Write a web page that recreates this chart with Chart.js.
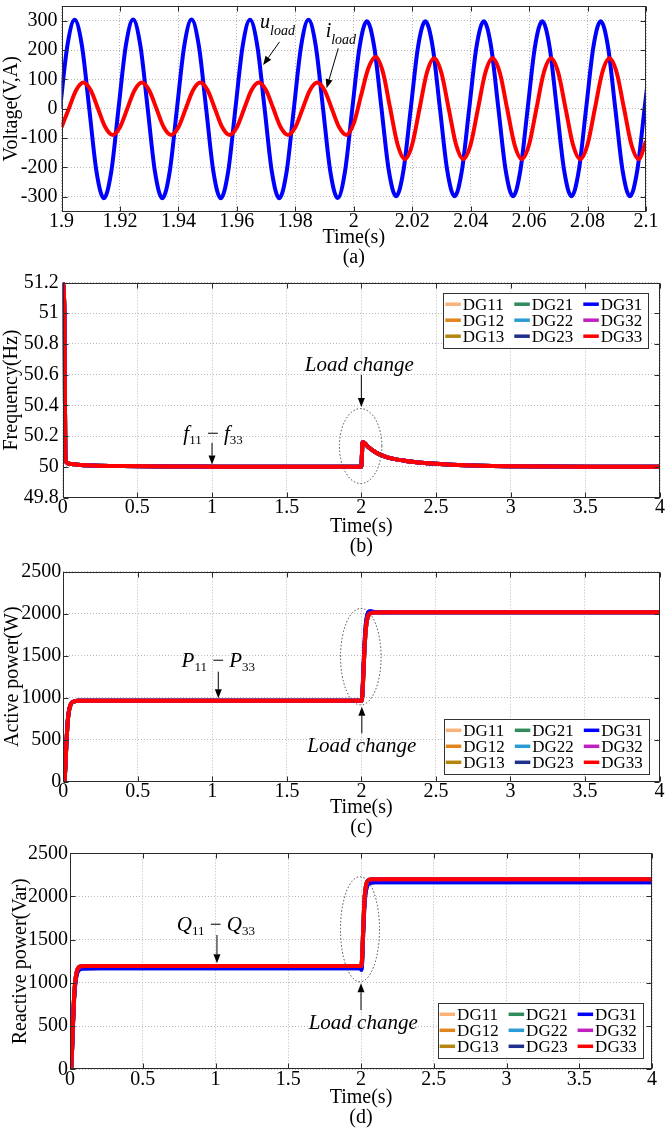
<!DOCTYPE html>
<html>
<head>
<meta charset="utf-8">
<script src="https://cdn.jsdelivr.net/npm/chart.js@4.4.0/dist/chart.umd.min.js"></script>
<style>
  html, body { margin: 0; padding: 0; background: #fff; overflow: hidden; }
  #page { position: relative; width: 668px; height: 1133px; }
  canvas { position: absolute; left: 0; }
</style>
</head>
<body>
<div id="page">
  <canvas id="chartA" width="668" height="282" style="top:-14px"></canvas>
  <canvas id="chartB" width="668" height="295" style="top:262px"></canvas>
  <canvas id="chartC" width="668" height="286" style="top:552px"></canvas>
  <canvas id="chartD" width="668" height="295" style="top:833px"></canvas>
</div>
<script>
// (a) load voltage and current around the load step
const tU = [
  1.8995, 1.9020, 1.9045, 1.9070, 1.9095, 1.9120, 1.9145, 1.9170,
  1.9195, 1.9220, 1.9245, 1.9270, 1.9295, 1.9320, 1.9345, 1.9370,
  1.9395, 1.9420, 1.9445, 1.9470, 1.9495, 1.9520, 1.9545, 1.9570,
  1.9595, 1.9620, 1.9645, 1.9670, 1.9695, 1.9720, 1.9745, 1.9770,
  1.9795, 1.9820, 1.9845, 1.9870, 1.9895, 1.9920, 1.9945, 1.9970,
  1.9995, 2.0020, 2.0045, 2.0070, 2.0095, 2.0120, 2.0145, 2.0170,
  2.0195, 2.0220, 2.0245, 2.0270, 2.0295, 2.0320, 2.0345, 2.0370,
  2.0395, 2.0420, 2.0445, 2.0470, 2.0495, 2.0520, 2.0545, 2.0570,
  2.0595, 2.0620, 2.0645, 2.0670, 2.0695, 2.0720, 2.0745, 2.0770,
  2.0795, 2.0820, 2.0845, 2.0870, 2.0895, 2.0920, 2.0945, 2.0970,
  2.0995, 2.1020
];
const uLoad = [
  0, 214, 303, 214, 0, -216, -305, -216,
  0, 214, 304, 214, 0, -216, -305, -216,
  0, 214, 304, 214, 0, -216, -305, -216,
  0, 214, 303, 214, 0, -216, -305, -216,
  0, 214, 303, 214, 0, -215, -304, -214,
  0, 211, 298, 211, 0, -211, -298, -211,
  0, 211, 298, 211, 0, -211, -298, -211,
  0, 211, 298, 211, 0, -211, -298, -211,
  0, 211, 298, 211, 0, -211, -298, -211,
  0, 211, 298, 211, 0, -211, -298, -211,
  0, 211
];
const tI = [
  1.9000, 1.9025, 1.9050, 1.9075, 1.9100, 1.9125, 1.9150, 1.9175,
  1.9200, 1.9225, 1.9250, 1.9275, 1.9300, 1.9325, 1.9350, 1.9375,
  1.9400, 1.9425, 1.9450, 1.9475, 1.9500, 1.9525, 1.9550, 1.9575,
  1.9600, 1.9625, 1.9650, 1.9675, 1.9700, 1.9725, 1.9750, 1.9775,
  1.9800, 1.9825, 1.9850, 1.9875, 1.9900, 1.9925, 1.9950, 1.9975,
  2.0000, 2.0025, 2.0050, 2.0075, 2.0100, 2.0125, 2.0150, 2.0175,
  2.0200, 2.0225, 2.0250, 2.0275, 2.0300, 2.0325, 2.0350, 2.0375,
  2.0400, 2.0425, 2.0450, 2.0475, 2.0500, 2.0525, 2.0550, 2.0575,
  2.0600, 2.0625, 2.0650, 2.0675, 2.0700, 2.0725, 2.0750, 2.0775,
  2.0800, 2.0825, 2.0850, 2.0875, 2.0900, 2.0925, 2.0950, 2.0975,
  2.1000
];
const iLoad = [
  -63, 0, 63, 89, 63, 0, -63, -89,
  -63, 0, 63, 89, 63, 0, -63, -89,
  -63, 0, 63, 89, 63, 0, -63, -89,
  -63, 0, 63, 89, 63, 0, -63, -89,
  -63, 0, 63, 89, 63, 0, -63, -89,
  -50, 45, 138, 176, 124, 0, -122, -172,
  -122, 0, 122, 172, 122, 0, -122, -172,
  -122, 0, 122, 172, 122, 0, -122, -172,
  -122, 0, 122, 172, 122, 0, -122, -172,
  -122, 0, 122, 172, 122, 0, -122, -172,
  -110
];
const xTicksA = [1.9, 1.92, 1.94, 1.96, 1.98, 2, 2.02, 2.04, 2.06, 2.08, 2.1];
const yTicksA = [-300, -200, -100, 0, 100, 200, 300];

// DG units
const dgNames = ['DG11', 'DG12', 'DG13', 'DG21', 'DG22', 'DG23', 'DG31', 'DG32', 'DG33'];
const dgColors = ['#f9b27a', '#e0851c', '#b5860f', '#2e8b5a', '#2a9bd4', '#1f2f8c', '#0000ff', '#c020c0', '#ff0000'];
const xTicksT = [0, 0.5, 1, 1.5, 2, 2.5, 3, 3.5, 4];

// (b) frequency, same for all DGs
const tF = [0, 0.004, 0.008, 0.011, 0.014, 0.017, 0.02, 0.025, 0.035, 0.06, 0.1, 0.2, 0.4, 0.7, 1.0, 1.5, 1.998,
            2.0, 2.004, 2.008, 2.02, 2.05, 2.1, 2.15, 2.2, 2.3, 2.4, 2.5, 2.6, 2.8, 3.0, 3.5, 4.0];
const freq = [51.2, 51.18, 51.12, 51.0, 50.6, 50.15, 50.05, 50.03, 50.022, 50.018, 50.014, 50.009, 50.005, 50.002, 50.001, 50.0, 50.0,
              50.0, 50.08, 50.16, 50.155, 50.125, 50.092, 50.07, 50.055, 50.038, 50.027, 50.019, 50.013, 50.006, 50.003, 50.0, 50.0];
const yTicksB = [49.8, 50, 50.2, 50.4, 50.6, 50.8, 51, 51.2];

// (c) active power
const tP = [0, 0.008, 0.014, 0.02, 0.026, 0.032, 0.04, 0.05, 0.06, 0.075, 0.1, 0.2, 1.0, 1.998,
            2.002, 2.008, 2.015, 2.022, 2.03, 2.04, 2.05, 2.06, 2.075, 2.1, 2.2, 3.0, 4.0];
const pMain = [0, 10, 180, 420, 620, 760, 860, 920, 945, 958, 963, 965, 965, 965,
               962, 1080, 1350, 1620, 1820, 1945, 1990, 2005, 2012, 2015, 2016, 2016, 2016];
const pFast = [0, 12, 190, 430, 630, 770, 865, 922, 946, 958, 963, 965, 965, 965,
               965, 1100, 1400, 1680, 1880, 1990, 2025, 2028, 2024, 2020, 2017, 2016, 2016];
const yTicksP = [0, 500, 1000, 1500, 2000, 2500];

// (d) reactive power
const tQ = [0, 0.008, 0.014, 0.02, 0.026, 0.032, 0.04, 0.05, 0.06, 0.075, 0.1, 0.2, 1.0, 1.998,
            2.002, 2.008, 2.015, 2.022, 2.03, 2.04, 2.05, 2.06, 2.075, 2.1, 2.2, 3.0, 4.0];
const qHigh = [0, 10, 220, 510, 760, 940, 1070, 1150, 1180, 1192, 1196, 1197, 1197, 1197,
               1195, 1300, 1620, 1900, 2080, 2160, 2188, 2196, 2200, 2201, 2201, 2201, 2201];
const qLow = [0, 8, 200, 480, 730, 905, 1035, 1118, 1148, 1162, 1167, 1169, 1169, 1169,
              1152, 1240, 1560, 1840, 2020, 2110, 2145, 2158, 2163, 2165, 2165, 2165, 2165];
const yTicksQ = [0, 500, 1000, 1500, 2000, 2500];

const SERIF = '"Liberation Serif", "Times New Roman", serif';
const TICK_FONT = { family: SERIF, size: 20, lineHeight: 1.05 };
const TITLE_FONT = { family: SERIF, size: 20, lineHeight: 1.0 };
const GRID = '#b8b8b8';

const xy = (ts, vs) => ts.map((t, i) => ({ x: t, y: vs[i] }));

function dgSets(pick) {
  return dgNames.map((name, i) => ({
    label: name,
    data: pick(name),
    borderColor: dgColors[i],
    borderWidth: 4,
    pointRadius: 0,
    cubicInterpolationMode: 'monotone',
    borderJoinStyle: 'round',
    clip: 0,
    order: 8 - i
  }));
}

// text made of italic letters and subscripts
function drawParts(ctx, parts, cx, cy) {
  const fonts = parts.map(p => `${p.it ? 'italic ' : ''}${p.size || 21}px ${SERIF}`);
  let w = 0;
  parts.forEach((p, i) => { ctx.font = fonts[i]; w += ctx.measureText(p.s).width; });
  let x = cx - w / 2;
  ctx.textAlign = 'left';
  ctx.textBaseline = 'alphabetic';
  parts.forEach((p, i) => {
    ctx.font = fonts[i];
    ctx.fillText(p.s, x, cy + (p.dy || 0));
    x += ctx.measureText(p.s).width;
  });
}

function arrow(ctx, x1, y1, x2, y2) {
  const ang = Math.atan2(y2 - y1, x2 - x1);
  const hl = 9, hw = 3.5;
  const bx = x2 - hl * Math.cos(ang), by = y2 - hl * Math.sin(ang);
  ctx.beginPath();
  ctx.moveTo(x1, y1);
  ctx.lineTo(bx, by);
  ctx.stroke();
  ctx.beginPath();
  ctx.moveTo(x2, y2);
  ctx.lineTo(bx + hw * Math.sin(ang), by - hw * Math.cos(ang));
  ctx.lineTo(bx - hw * Math.sin(ang), by + hw * Math.cos(ang));
  ctx.closePath();
  ctx.fill();
}

function decor(notes, legendPos) {
  return {
    id: 'decor',
    afterDatasetsDraw(chart) {
      const { ctx, chartArea: a } = chart;
      const xs = chart.scales.x, ys = chart.scales.y;
      const px = t => xs.getPixelForValue(t);
      const py = v => ys.getPixelForValue(v);
      ctx.save();

      // frame and inward ticks
      const L = Math.round(a.left) + 0.5, R = Math.round(a.right) - 0.5;
      const T = Math.round(a.top) + 0.5, B = Math.round(a.bottom) - 0.5;
      ctx.strokeStyle = '#2a2a2a';
      ctx.lineWidth = 1;
      ctx.setLineDash([]);
      ctx.strokeRect(L, T, R - L, B - T);
      ctx.beginPath();
      xs.ticks.forEach(tk => {
        const x = Math.round(px(tk.value)) + 0.5;
        ctx.moveTo(x, B); ctx.lineTo(x, B - 5);
        ctx.moveTo(x, T); ctx.lineTo(x, T + 5);
      });
      ys.ticks.forEach(tk => {
        const y = Math.round(py(tk.value)) + 0.5;
        ctx.moveTo(L, y); ctx.lineTo(L + 5, y);
        ctx.moveTo(R, y); ctx.lineTo(R - 5, y);
      });
      ctx.stroke();

      // annotations
      ctx.fillStyle = '#000';
      ctx.strokeStyle = '#000';
      notes.forEach(n => {
        if (n.type === 'text') {
          drawParts(ctx, n.parts, px(n.at[0]), py(n.at[1]));
        } else if (n.type === 'arrow') {
          ctx.setLineDash([]);
          ctx.lineWidth = 1;
          arrow(ctx, px(n.from[0]), py(n.from[1]), px(n.to[0]), py(n.to[1]));
        } else if (n.type === 'ellipse') {
          const cx = px(n.at[0]), cy = py(n.at[1]);
          const rx = Math.abs(px(n.at[0] + n.rx) - cx), ry = Math.abs(py(n.at[1] + n.ry) - cy);
          ctx.save();
          ctx.strokeStyle = '#444';
          ctx.lineWidth = 1;
          ctx.setLineDash([1.5, 2]);
          ctx.beginPath();
          ctx.ellipse(cx, cy, rx, ry, 0, 0, Math.PI * 2);
          ctx.stroke();
          ctx.restore();
        }
      });

      // legend box, three columns
      if (legendPos) {
        const W = 205, H = 54.5;
        const left = a.right - legendPos.right - W;
        const top = legendPos.top !== undefined ? a.top + legendPos.top : a.bottom - legendPos.bottom - H;
        ctx.setLineDash([]);
        ctx.fillStyle = '#fff';
        ctx.fillRect(left, top, W, H);
        ctx.strokeStyle = '#333';
        ctx.lineWidth = 1;
        ctx.strokeRect(Math.round(left) + 0.5, Math.round(top) + 0.5, Math.round(W), Math.round(H));
        const colX = [2, 71, 140];
        const rowY = [11.5, 27.5, 43.5];
        ctx.font = `17px ${SERIF}`;
        ctx.textBaseline = 'middle';
        ctx.textAlign = 'left';
        chart.data.datasets.forEach((ds, i) => {
          const c = Math.floor(i / 3), r = i % 3;
          const x0 = left + colX[c], y0 = top + rowY[r];
          ctx.strokeStyle = ds.borderColor;
          ctx.lineWidth = 3.5;
          ctx.beginPath();
          ctx.moveTo(x0, y0);
          ctx.lineTo(x0 + 15.5, y0);
          ctx.stroke();
          ctx.fillStyle = '#000';
          ctx.fillText(ds.label, x0 + 17.5, y0 + 1);
        });
      }
      ctx.restore();
    }
  };
}

function panel(id, o) {
  return new Chart(document.getElementById(id), {
    type: 'line',
    data: { datasets: o.datasets },
    options: {
      responsive: false,
      animation: false,
      events: [],
      layout: { padding: { left: 0, right: o.padR, top: o.padT, bottom: 0 } },
      plugins: { legend: { display: false }, tooltip: { enabled: false } },
      scales: {
        x: {
          type: 'linear',
          min: o.xMin, max: o.xMax,
          afterBuildTicks: s => { s.ticks = o.xTicks.map(v => ({ value: v })); },
          afterFit: s => { s.height = o.xH; },
          ticks: { font: TICK_FONT, color: '#000', padding: 0, maxRotation: 0, autoSkip: false, callback: v => String(v) },
          grid: { color: GRID, drawTicks: false },
          border: { display: false, dash: [1, 2] },
          title: { display: true, text: ['Time(s)', o.caption], font: TITLE_FONT, color: '#000', padding: 0 }
        },
        y: {
          type: 'linear',
          min: o.yMin, max: o.yMax,
          afterBuildTicks: s => { s.ticks = o.yTicks.map(v => ({ value: v })); },
          afterFit: s => { s.width = o.yW; },
          ticks: { font: TICK_FONT, color: '#000', padding: o.yPad, autoSkip: false, callback: v => String(v) },
          grid: { color: GRID, drawTicks: false },
          border: { display: false, dash: [1, 2] },
          title: { display: true, text: o.yTitle, font: TITLE_FONT, color: '#000', padding: { top: o.yTitlePad, bottom: 0 } }
        }
      }
    },
    plugins: [decor(o.notes, o.legend)]
  });
}

const sub = s => ({ s, size: 13, dy: 4 });
const ital = s => ({ s, it: true });
const minus = { s: ' \u2212 ' };

panel('chartA', {
  datasets: [
    { label: 'u_load', data: xy(tU, uLoad), borderColor: '#0000ff', borderWidth: 4, pointRadius: 0,
      cubicInterpolationMode: 'monotone', clip: 0, order: 1 },
    { label: 'i_load', data: xy(tI, iLoad), borderColor: '#ff0000', borderWidth: 4, pointRadius: 0,
      cubicInterpolationMode: 'monotone', clip: 0, order: 0 }
  ],
  xMin: 1.9, xMax: 2.1, xTicks: xTicksA, yMin: -350, yMax: 350, yTicks: yTicksA,
  padR: 22, padT: 20, xH: 56.5, yW: 61.5, yPad: 4, yTitlePad: 2,
  caption: '(a)', yTitle: 'Voltage(V,A)',
  notes: [
    { type: 'text', at: [1.9739, 274], parts: [{ s: 'u', it: true, size: 20 }, { s: 'load', it: true, size: 14, dy: 7 }] },
    { type: 'arrow', from: [1.9746, 228], to: [1.9690, 149] },
    { type: 'text', at: [1.9956, 244], parts: [{ s: 'i', it: true, size: 20 }, { s: 'load', it: true, size: 14, dy: 7 }] },
    { type: 'arrow', from: [1.9947, 206], to: [1.9907, 70] }
  ]
});

panel('chartB', {
  datasets: dgSets(() => xy(tF, freq)),
  xMin: 0, xMax: 4, xTicks: xTicksT, yMin: 49.8, yMax: 51.2, yTicks: yTicksB,
  padR: 8, padT: 20.5, xH: 59.5, yW: 62.7, yPad: 4, yTitlePad: 1.3,
  caption: '(b)', yTitle: 'Frequency(Hz)',
  legend: { right: 11.7, top: 10.2 },
  notes: [
    { type: 'text', at: [1.986, 50.625], parts: [ital('Load change')] },
    { type: 'arrow', from: [2.0, 50.598], to: [2.0, 50.389] },
    { type: 'ellipse', at: [1.995, 50.135], rx: 0.142, ry: 0.244 },
    { type: 'text', at: [1.007, 50.174], parts: [ital('f'), sub('11'), minus, ital('f'), sub('33')] },
    { type: 'arrow', from: [1.0, 50.155], to: [1.0, 50.015] }
  ]
});

panel('chartC', {
  datasets: dgSets(n => (n === 'DG23' || n === 'DG31') ? xy(tP, pFast) : xy(tP, pMain)),
  xMin: 0, xMax: 4, xTicks: xTicksT, yMin: 0, yMax: 2500, yTicks: yTicksP,
  padR: 8.5, padT: 19.7, xH: 56.3, yW: 63.3, yPad: 2, yTitlePad: 2.5,
  caption: '(c)', yTitle: 'Active power(W)',
  legend: { right: 10.7, bottom: 8.4 },
  notes: [
    { type: 'text', at: [1.04, 1369], parts: [ital('P'), sub('11'), minus, ital('P'), sub('33')] },
    { type: 'arrow', from: [1.04, 1310], to: [1.04, 993] },
    { type: 'ellipse', at: [1.996, 1488], rx: 0.136, ry: 575 },
    { type: 'text', at: [2.003, 354], parts: [ital('Load change')] },
    { type: 'arrow', from: [2.003, 576], to: [2.003, 893] }
  ]
});

panel('chartD', {
  datasets: dgSets(n => (n === 'DG23' || n === 'DG31') ? xy(tQ, qLow) : xy(tQ, qHigh)),
  xMin: 0, xMax: 4, xTicks: xTicksT, yMin: 0, yMax: 2500, yTicks: yTicksQ,
  padR: 16, padT: 20.3, xH: 58.7, yW: 70, yPad: 2, yTitlePad: 10.3,
  caption: '(d)', yTitle: 'Reactive power(Var)',
  legend: { right: 9.4, bottom: 12 },
  notes: [
    { type: 'text', at: [1.003, 1601], parts: [ital('Q'), sub('11'), minus, ital('Q'), sub('33')] },
    { type: 'arrow', from: [1.01, 1555], to: [1.01, 1227] },
    { type: 'ellipse', at: [1.993, 1621], rx: 0.134, ry: 608 },
    { type: 'text', at: [2.015, 466], parts: [ital('Load change')] },
    { type: 'arrow', from: [2.0, 686], to: [2.0, 995] }
  ]
});
</script>
</body>
</html>
